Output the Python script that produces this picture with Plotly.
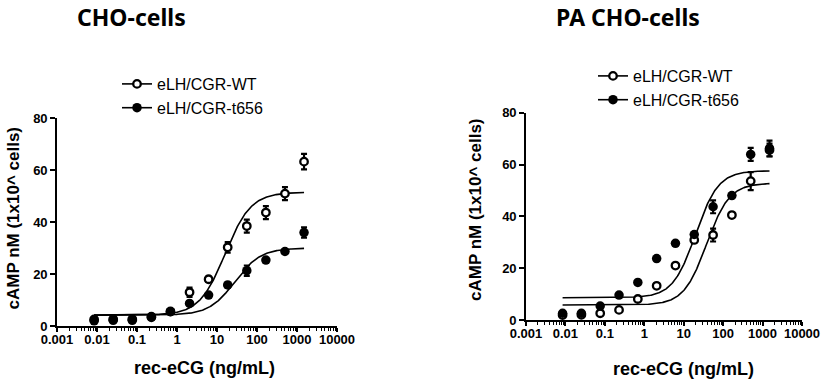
import numpy as np
import plotly.graph_objects as go

# ---------------- data ----------------
DOSES = [0.00847, 0.0254, 0.0762, 0.229, 0.686, 2.06, 6.17, 18.5, 55.6, 166.7, 500, 1500]

# CHO-cells
WT_CHO = [2.5, 2.6, 2.6, 3.6, 5.6, 13.0, 18.0, 30.3, 38.5, 43.7, 51.0, 63.3]
WT_CHO_ERR = [0.6, 0.5, 0.5, 0.5, 0.6, 1.8, 1.0, 2.0, 2.5, 2.5, 2.5, 3.0]
T656_CHO = [2.0, 2.2, 2.2, 3.3, 5.5, 8.7, 11.9, 15.8, 21.3, 25.4, 28.7, 36.0]
T656_CHO_ERR = [0.8, 0.5, 0.5, 0.5, 0.6, 0.6, 0.6, 0.6, 2.0, 0.6, 0.8, 2.0]

# PA CHO-cells
WT_PA = [1.9, 2.0, 2.6, 3.9, 8.1, 13.2, 21.0, 30.9, 32.8, 40.5, 53.6, 65.6]
WT_PA_ERR = [0.5, 0.5, 0.5, 0.5, 0.5, 0.8, 0.8, 1.0, 2.5, 0.8, 3.5, 2.5]
T656_PA = [2.6, 2.6, 5.4, 9.6, 14.5, 23.7, 29.6, 33.0, 43.7, 48.0, 63.9, 66.2]
T656_PA_ERR = [0.5, 0.5, 0.5, 0.5, 0.5, 0.5, 0.5, 0.8, 2.5, 0.8, 2.5, 3.0]

# 4-parameter logistic fit parameters (bottom, top, EC50, hill)
FIT_WT_CHO = (4.2, 51.5, 16.0, 1.35)
FIT_T656_CHO = (4.2, 30.0, 28.0, 1.35)
FIT_WT_PA = (5.8, 52.8, 38.0, 1.5)
FIT_T656_PA = (8.6, 57.6, 20.0, 1.5)

SERIES_NAMES = ["eLH/CGR-WT", "eLH/CGR-t656"]
PANEL_TITLES = ["CHO-cells", "PA CHO-cells"]
X_TICKS = [0.001, 0.01, 0.1, 1, 10, 100, 1000, 10000]
X_TICK_LABELS = ["0.001", "0.01", "0.1", "1", "10", "100", "1000", "10000"]
Y_TICKS = [0, 20, 40, 60, 80]
X_TITLE = "rec-eCG (ng/mL)"
Y_TITLE = "cAMP nM (1x10^ cells)"


def fit_curve(params):
    b, t, ec, h = params
    xs = np.logspace(np.log10(min(DOSES)), np.log10(max(DOSES)), 300)
    ys = b + (t - b) / (1 + (ec / xs) ** h)
    return xs, ys


W, H = 827, 382


def px(xs):
    return xs / W


def py(ys):
    return 1 - ys / H


fig = go.Figure()

open_marker = dict(symbol="circle", size=7.5, color="white", line=dict(color="black", width=2.3))
filled_marker = dict(symbol="circle", size=9.5, color="black", line=dict(color="black", width=0))

panels = [
    ("x", "y", "legend", WT_CHO, WT_CHO_ERR, T656_CHO, T656_CHO_ERR, FIT_WT_CHO, FIT_T656_CHO),
    ("x2", "y2", "legend2", WT_PA, WT_PA_ERR, T656_PA, T656_PA_ERR, FIT_WT_PA, FIT_T656_PA),
]

for xa, ya, leg, wt, wte, tt, tte, fwt, ftt in panels:
    for fit in (fwt, ftt):
        cx, cy = fit_curve(fit)
        fig.add_trace(go.Scatter(x=cx, y=cy, mode="lines", line=dict(color="black", width=1.6),
                                 xaxis=xa, yaxis=ya, showlegend=False, hoverinfo="skip"))
    fig.add_trace(go.Scatter(x=DOSES, y=wt, mode="markers", marker=open_marker,
                             error_y=dict(type="data", array=wte, color="black", thickness=2.2, width=3),
                             xaxis=xa, yaxis=ya, showlegend=False))
    fig.add_trace(go.Scatter(x=DOSES, y=tt, mode="markers", marker=filled_marker,
                             error_y=dict(type="data", array=tte, color="black", thickness=2.2, width=3),
                             xaxis=xa, yaxis=ya, showlegend=False))
    # legend entries
    for name, mk in zip(SERIES_NAMES, (open_marker, filled_marker)):
        fig.add_trace(go.Scatter(x=[None], y=[None], mode="lines+markers", name=name,
                                 marker=mk, line=dict(color="black", width=1.6),
                                 xaxis=xa, yaxis=ya, legend=leg, legendgroup=leg + name,
                                 showlegend=True))

minor_vals = [m * 10.0 ** e for e in range(-3, 4) for m in range(2, 10)]

tick_font = dict(family="Liberation Sans", size=13, color="black", weight="bold")
xaxis_common = dict(
    type="log", range=[-3, 4], tickmode="array", tickvals=X_TICKS, ticktext=X_TICK_LABELS,
    ticks="outside", ticklen=4, tickwidth=1.5, tickcolor="black",
    showline=True, linecolor="black", linewidth=1.6, showgrid=False, zeroline=False,
    tickfont=tick_font, automargin=False, ticklabelstandoff=-3, ticklabeloverflow="allow",
    minor=dict(tickmode="array", tickvals=minor_vals, ticks="outside", ticklen=3,
               tickwidth=1, tickcolor="black", showgrid=False),
)
yaxis_common = dict(
    range=[0, 80], tickmode="array", tickvals=Y_TICKS,
    ticks="outside", ticklen=5, tickwidth=1.5, tickcolor="black",
    showline=True, linecolor="black", linewidth=1.6, showgrid=False, zeroline=False,
    tickfont=tick_font, automargin=False, ticklabeloverflow="allow",
)

fig.update_layout(
    width=W, height=H, margin=dict(l=0, r=0, t=0, b=0, pad=0, autoexpand=False),
    paper_bgcolor="white", plot_bgcolor="white",
    xaxis=dict(domain=[px(57), px(337)], anchor="y", **xaxis_common),
    yaxis=dict(domain=[py(326), py(118.3)], anchor="x", **yaxis_common),
    xaxis2=dict(domain=[px(526), px(802)], anchor="y2", **xaxis_common),
    yaxis2=dict(domain=[py(320), py(112.7)], anchor="x2", **yaxis_common),
    legend=dict(x=px(117), y=py(67), xanchor="left", yanchor="top",
                font=dict(family="Liberation Sans", size=16, color="black"),
                bgcolor="rgba(0,0,0,0)", traceorder="grouped", tracegroupgap=0),
    legend2=dict(x=px(593), y=py(59), xanchor="left", yanchor="top",
                 font=dict(family="Liberation Sans", size=16, color="black"),
                 bgcolor="rgba(0,0,0,0)", traceorder="grouped", tracegroupgap=0),
    showlegend=True,
)

title_font = dict(family="Noto Sans", size=23, color="black", weight="bold")
for txt, xc in zip(PANEL_TITLES, (131, 627.5)):
    fig.add_annotation(text=txt, x=px(xc), y=1, xref="paper", yref="paper",
                       showarrow=False, font=title_font, xanchor="center", yanchor="top",
                       borderpad=0)

axis_title_font = dict(family="Liberation Sans", size=18, color="black", weight="bold")
for xc, yc in [(204, 368), (683, 369)]:
    fig.add_annotation(text=X_TITLE, x=px(xc), y=py(yc), xref="paper", yref="paper",
                       showarrow=False, font=axis_title_font, xanchor="center", yanchor="middle")
for xc, yc in [(12.5, 218), (475, 210)]:
    fig.add_annotation(text=Y_TITLE, x=px(xc), y=py(yc), xref="paper", yref="paper",
                       showarrow=False, font=dict(family="Liberation Sans", size=17, color="black", weight="bold"),
                       textangle=-90, xanchor="center", yanchor="middle")

# remove the default 8px page margin so the figure fills the window exactly
fig.write_html("out.html", config={"displayModeBar": False},
               post_script="document.body.style.margin='0px';")
